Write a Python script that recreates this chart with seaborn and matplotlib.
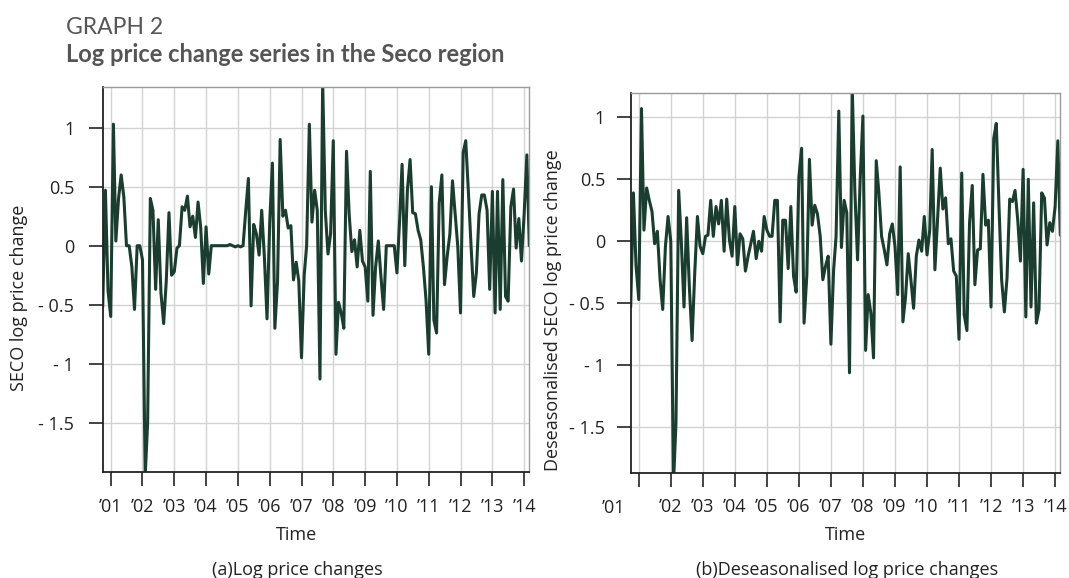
import pandas as pd
import matplotlib
matplotlib.use('Agg')
import matplotlib.pyplot as plt
import seaborn as sns

# monthly observations, Oct 2000 - Mar 2014
months = pd.date_range('2000-10-01', periods=162, freq='MS')

log_change = [
    -0.52, 0.47, -0.38, -0.60, 1.03, 0.04, 0.40, 0.60, 0.41, 0.00,
    0.00, -0.18, -0.54, 0.00, 0.00, -0.12, -1.95, -1.50, 0.40, 0.30,
    -0.37, 0.22, -0.40, -0.66, -0.30, 0.28, -0.25, -0.22, -0.02, 0.00,
    0.33, 0.30, 0.42, 0.16, 0.25, 0.07, 0.37, 0.15, -0.32, 0.16,
    -0.24, 0.00, 0.00, 0.00, 0.00, 0.00, 0.00, 0.00, 0.01, 0.00,
    -0.01, 0.00, -0.01, 0.00, 0.30, 0.57, -0.51, 0.18, 0.10, -0.08,
    0.30, -0.10, -0.62, 0.20, 0.70, -0.70, -0.30, 0.90, 0.25, 0.30,
    0.15, 0.17, -0.29, -0.14, -0.30, -0.95, -0.25, 0.00, 1.03, 0.20,
    0.47, 0.30, -1.13, 1.40, 0.30, -0.07, 0.10, 0.89, -0.92, -0.48,
    -0.57, -0.70, 0.80, 0.27, -0.05, 0.05, -0.18, 0.13, -0.13, -0.18,
    -0.47, 0.63, -0.59, -0.18, 0.04, -0.26, -0.54, 0.00, 0.00, 0.00,
    0.00, -0.23, 0.22, 0.69, -0.17, 0.47, 0.73, 0.28, 0.27, 0.13,
    0.05, -0.18, -0.46, -0.92, 0.50, -0.63, -0.74, 0.36, 0.60, -0.33,
    -0.09, 0.10, 0.55, 0.27, -0.01, -0.57, 0.79, 0.89, 0.45, 0.00,
    -0.43, -0.23, 0.27, 0.43, 0.43, 0.30, -0.37, 0.46, -0.57, 0.46,
    -0.54, 0.56, -0.43, -0.47, 0.33, 0.48, -0.02, 0.23, -0.13, 0.27,
    0.77, 0.00,
]

deseasonalised = [
    -0.53, 0.39, -0.20, -0.47, 1.07, 0.09, 0.43, 0.33, 0.24, -0.02,
    0.08, -0.31, -0.55, -0.04, 0.20, 0.00, -1.95, -1.47, 0.41, 0.00,
    -0.53, 0.19, -0.37, -0.80, -0.26, 0.20, -0.04, -0.10, 0.04, 0.05,
    0.33, 0.04, 0.28, 0.14, 0.33, -0.08, 0.34, 0.01, -0.12, 0.28,
    -0.19, 0.06, 0.02, -0.24, -0.12, -0.02, 0.08, -0.14, 0.00, -0.08,
    0.20, 0.09, 0.04, 0.04, 0.33, 0.33, -0.65, 0.17, 0.17, -0.22,
    0.28, -0.28, -0.41, 0.52, 0.75, -0.66, -0.28, 0.66, 0.13, 0.29,
    0.22, 0.04, -0.31, -0.20, -0.12, -0.83, -0.23, 0.04, 1.05, -0.05,
    0.33, 0.23, -1.06, 1.25, 0.41, -0.15, 0.50, 1.01, -0.88, -0.43,
    -0.58, -0.94, 0.65, 0.39, 0.04, -0.07, -0.19, 0.06, 0.14, -0.04,
    -0.43, 0.60, -0.65, -0.45, -0.10, -0.31, -0.54, -0.12, 0.01, -0.08,
    0.20, -0.11, 0.09, 0.74, -0.23, 0.17, 0.59, 0.26, 0.35, -0.02,
    0.02, -0.24, -0.28, -0.79, 0.55, -0.59, -0.72, 0.15, 0.45, -0.35,
    -0.07, -0.06, 0.54, 0.13, 0.17, -0.53, 0.83, 0.95, 0.28, -0.31,
    -0.57, -0.30, 0.34, 0.32, 0.41, 0.17, -0.16, 0.58, -0.61, 0.50,
    -0.53, 0.31, -0.66, -0.55, 0.39, 0.35, -0.03, 0.15, 0.08, 0.28,
    0.81, 0.05,
]

year_ticks = pd.to_datetime([f'{y}-01-01' for y in range(2001, 2015)])
year_labels = ['\u2019%02d' % (y % 100) for y in range(2001, 2015)]
y_ticks = [-1.5, -1, -0.5, 0, 0.5, 1]
y_labels = ['- 1.5', '- 1', '- 0.5', '0', '0.5', '1']

sns.set_style('whitegrid')
plt.rcParams['font.family'] = ['Open Sans', 'DejaVu Sans']
plt.rcParams['text.color'] = '#222222'
plt.rcParams['axes.labelcolor'] = '#222222'
plt.rcParams['xtick.color'] = '#222222'
plt.rcParams['ytick.color'] = '#222222'

line_col = '#1a3d2f'
fs = 13
df = pd.DataFrame({'month': months, 'raw': log_change, 'deseas': deseasonalised})

fig = plt.figure(figsize=(10.69, 5.78), dpi=100)
ax1 = fig.add_axes([102.7 / 1069, 1 - 472 / 578, 426.6 / 1069, 385 / 578])
ax2 = fig.add_axes([630.7 / 1069, 1 - 472.7 / 578, 429.6 / 1069, 380 / 578])

panels = [
    (ax1, 'raw', 'SECO log price change', (-1.918, 1.345), (-0.196, 0.453), (0.455, -0.164), 10.5),
    (ax2, 'deseas', 'Deseasonalised SECO log price change', (-1.866, 1.198), (-0.181, 0.428), (0.499, -0.164), 8.5),
]

for ax, col, ylab, ylim, ylab_pos, xlab_pos, ypad in panels:
    sns.lineplot(data=df, x='month', y=col, ax=ax, color=line_col, linewidth=2.2)
    ax.set_xlim(months[0], months[-1])
    ax.set_ylim(*ylim)
    ax.set_yticks(y_ticks, labels=y_labels)
    ax.set_xticks(year_ticks, labels=year_labels)
    ax.grid(True, color='#d2d2d2', linewidth=1.0)
    ax.tick_params(axis='both', direction='out', length=10, width=1.2, labelsize=fs,
                   bottom=True, left=True)
    ax.tick_params(axis='x', pad=8.5)
    ax.tick_params(axis='y', pad=ypad)
    for s in ['left', 'bottom']:
        ax.spines[s].set_color('#222222')
        ax.spines[s].set_linewidth(1.3)
    for s in ['top', 'right']:
        ax.spines[s].set_color('#9a9a9a')
        ax.spines[s].set_linewidth(1.0)
    ax.set_ylabel(ylab, fontsize=fs, va='center')
    ax.yaxis.set_label_coords(*ylab_pos)
    ax.set_xlabel('Time', fontsize=fs, va='center')
    ax.xaxis.set_label_coords(*xlab_pos)

# panel (b) prints the first year label off to the left of its tick
labs = list(year_labels)
labs[0] = ''
ax2.set_xticks(year_ticks, labels=labs)
ax2.text(-0.039, -0.0692, year_labels[0], transform=ax2.transAxes,
         ha='center', va='top', fontsize=fs, color='#222222')

fig.text(297 / 1069, 1 - 570 / 578, '(a)Log price changes', ha='center', va='center', fontsize=fs)
fig.text(847 / 1069, 1 - 570 / 578, '(b)Deseasonalised log price changes', ha='center', va='center', fontsize=fs)

fig.text(66 / 1069, 1 - 27 / 578, 'GRAPH 2', ha='left', va='center', fontsize=16.5,
         color='#555555', family=['Lato', 'DejaVu Sans'])
fig.text(66 / 1069, 1 - 54 / 578, 'Log price change series in the Seco region', ha='left',
         va='center', fontsize=17, fontweight='bold', color='#555555', family=['Lato', 'DejaVu Sans'])

fig.savefig('out.png', dpi=100)
